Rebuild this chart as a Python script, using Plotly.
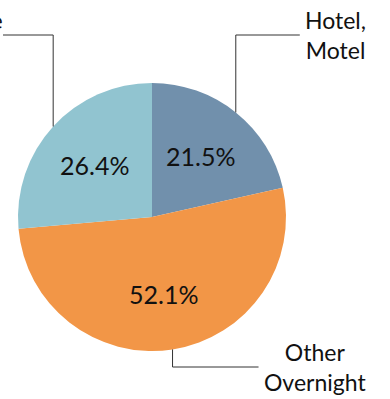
import math
import plotly.graph_objects as go

# Share of overnight stays by lodging type
labels = ["Hotel,<br>Motel", "Other<br>Overnight", "Private<br>Home"]
values = [21.5, 52.1, 26.4]
colors = ["#7190ac", "#f29647", "#91c4d0"]

W, H = 390, 399
CX, CY, R = 152, 217, 134          # pie centre and radius in pixels
FONT = "Lato"

fig = go.Figure(go.Pie(
    labels=[l.replace("<br>", " ") for l in labels],
    values=values,
    sort=False,
    direction="clockwise",
    rotation=0,
    marker=dict(colors=colors, line=dict(width=0)),
    textinfo="none",
    hoverinfo="none",
    showlegend=False,
    domain=dict(x=[(CX - R) / W, (CX + R) / W],
                y=[1 - (CY + R) / H, 1 - (CY - R) / H]),
))


def px(x, y):
    return x / W, 1 - y / H


total = sum(values)
cum = 0.0
mids = []
for v in values:
    mids.append(math.radians((cum + v / 2) / total * 360))
    cum += v

annotations = []
shapes = []
for lab, v, a in zip(labels, values, mids):
    # percentage inside the slice
    tx, ty = CX + 0.58 * R * math.sin(a), CY - 0.58 * R * math.cos(a)
    x, y = px(tx, ty)
    annotations.append(dict(x=x, y=y, xref="paper", yref="paper",
                            xanchor="center", yanchor="middle",
                            text=f"{v:.1f}%", showarrow=False,
                            font=dict(family=FONT, size=25, color="#111")))

    # elbow leader line from the slice edge to the category label
    ex, ey = CX + R * math.sin(a), CY - R * math.cos(a)
    if math.cos(a) > 0:       # upper slices: up to a common rail
        ky = 35
    else:                     # lower slices: down below the pie
        ky = CY + R + 16
    if math.sin(a) >= 0:
        hx = ex + (64 if math.cos(a) > 0 else 86)
        anchor, lx = "left", hx + 3
    else:
        hx = 3
        anchor, lx = "right", hx + 2
    pts = [(ex, ey), (ex, ky), (hx, ky)]
    path = "M " + " L ".join(f"{px(p, q)[0]} {px(p, q)[1]}" for p, q in pts)
    shapes.append(dict(type="path", path=path, xref="paper", yref="paper",
                       line=dict(color="#333333", width=1)))
    x, y = px(lx, ky)
    annotations.append(dict(x=x, y=y, xref="paper", yref="paper",
                            xanchor=anchor, yanchor="middle", align="center",
                            text=lab, showarrow=False,
                            font=dict(family=FONT, size=23, color="#111")))

fig.update_layout(
    width=W, height=H,
    margin=dict(l=0, r=0, t=0, b=0),
    paper_bgcolor="white",
    annotations=annotations,
    shapes=shapes,
)

fig.write_html("out.html")
